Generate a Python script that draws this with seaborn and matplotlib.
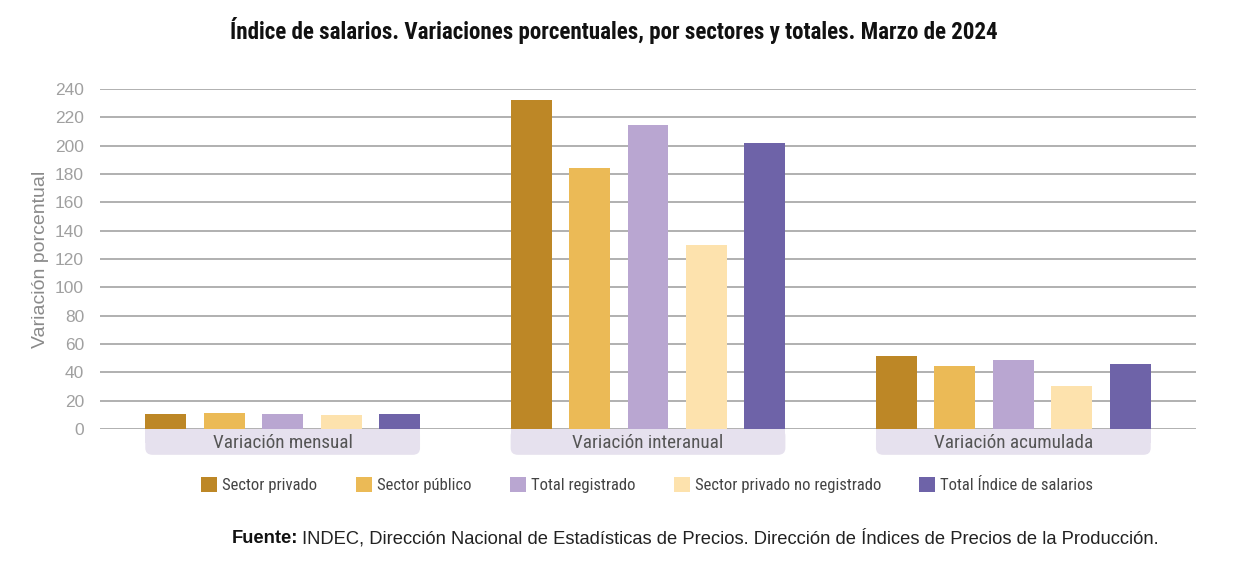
import matplotlib
matplotlib.use("Agg")
import matplotlib.pyplot as plt
from matplotlib import font_manager
from matplotlib.patches import Patch, FancyBboxPatch, Rectangle
import matplotlib.transforms as mtransforms
import seaborn as sb
import pandas as pd

# Data
grupos = ["Variación mensual", "Variación interanual", "Variación acumulada"]
series = ["Sector privado", "Sector público", "Total registrado",
          "Sector privado no registrado", "Total Índice de salarios"]
mensual = [10.6, 11.5, 10.6, 10.1, 10.6]
interanual = [232.2, 184.2, 214.6, 129.9, 202.1]
acumulada = [51.2, 44.2, 48.9, 30.1, 46.1]
colores = ["#bd8726", "#ebba56", "#b9a6d1", "#fde2ad", "#6e63a8"]
y_ticks = list(range(0, 241, 20))

titulo = "Índice de salarios. Variaciones porcentuales, por sectores y totales. Marzo de 2024"
fuente_bold = "Fuente:"
fuente_text = ("INDEC, Dirección Nacional de Estadísticas de Precios. "
               "Dirección de Índices de Precios de la Producción.")

rows = []
for g, vals in zip(grupos, [mensual, interanual, acumulada]):
    for s, v in zip(series, vals):
        rows.append({"grupo": g, "serie": s, "valor": v})
df = pd.DataFrame(rows)

sb.set_style("white")
installed = {f.name for f in font_manager.fontManager.ttflist}
narrow = "Liberation Sans"
for cand in ["Roboto Condensed", "Liberation Sans Narrow", "Open Sans Condensed"]:
    if cand in installed:
        narrow = cand
        break
plt.rcParams["font.family"] = ["Liberation Sans", "DejaVu Sans"]

fig = plt.figure(figsize=(12.33, 5.70), dpi=100)
ax = fig.add_axes([0.0811, 0.2474, 0.8889, 0.5965])

sb.barplot(data=df, x="grupo", y="valor", hue="serie", order=grupos, hue_order=series,
           palette=colores, saturation=1, width=0.8, gap=0.3, legend=False, ax=ax,
           linewidth=0, zorder=3)

ax.set_ylim(0, 240)
ax.set_xlim(-0.5, 2.5)
ax.set_yticks(y_ticks)
ax.tick_params(axis="y", length=0, pad=11.5, labelsize=12.5, labelcolor="#a0a0a0")
ax.set_xticks([])
ax.set_xlabel("")
ax.set_ylabel("Variación porcentual", fontsize=14, color="#8a8a8a", labelpad=4)
ax.grid(axis="y", color="#a3a3a3", linewidth=1.2, zorder=0)
ax.set_axisbelow(True)
for sp in ax.spines.values():
    sp.set_visible(False)

# category label boxes under each group
trans = mtransforms.blended_transform_factory(ax.transData, ax.transAxes)
half = 0.4 - 0.16 * 0.15
for i, g in enumerate(grupos):
    box = FancyBboxPatch((i - half, -0.076), 2 * half, 0.076,
                         boxstyle="round,pad=0,rounding_size=0.02",
                         mutation_aspect=1, transform=trans, clip_on=False,
                         facecolor="#e6e1ee", edgecolor="none", zorder=1)
    ax.add_patch(box)
    ax.add_patch(Rectangle((i - half, -0.04), 2 * half, 0.04, transform=trans,
                           clip_on=False, facecolor="#e6e1ee", edgecolor="none", zorder=1))
    ax.text(i, -0.040, g, transform=trans, ha="center", va="center",
            fontsize=13.8, color="#555555", family=narrow, zorder=4)

fig.text(0.498, 0.947, titulo, ha="center", va="center", fontsize=16.6,
         fontweight="bold", family=narrow, color="#111111")

handles = [Patch(facecolor=c, edgecolor="none") for c in colores]
fig.legend(handles, series, loc="center", bbox_to_anchor=(0.525, 0.149), ncol=5,
           frameon=False, handlelength=0.96, handleheight=0.96, handletextpad=0.3,
           columnspacing=2.3, prop={"family": narrow, "size": 12},
           labelcolor="#444444")

t1 = fig.text(0.188, 0.047, fuente_bold, ha="left", va="baseline", fontsize=13.2,
              fontweight="bold", color="#111111")
fig.canvas.draw()
bb = t1.get_window_extent()
x1 = fig.transFigure.inverted().transform((bb.x1 + 4, bb.y0))[0]
fig.text(x1, 0.047, fuente_text, ha="left", va="baseline", fontsize=13.2, color="#222222")

fig.savefig("out.png", dpi=100, facecolor="white")
